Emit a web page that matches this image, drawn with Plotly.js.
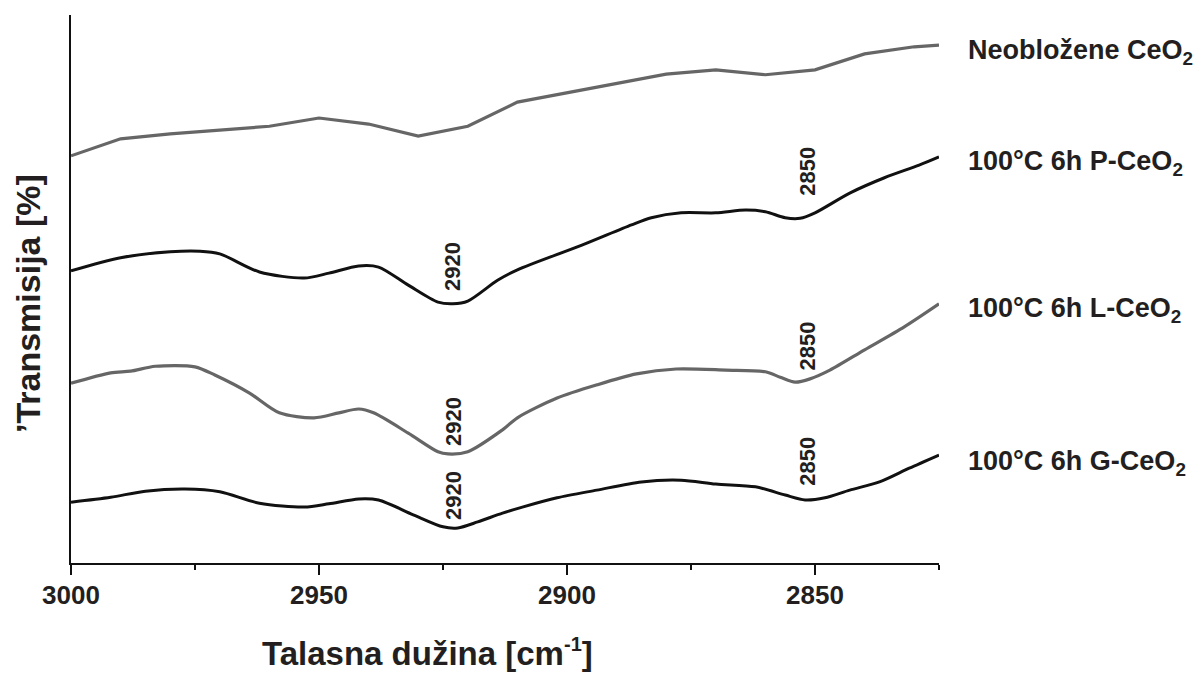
<!DOCTYPE html>
<html>
<head>
<meta charset="utf-8">
<script src="https://cdn.plot.ly/plotly-3.0.1.min.js"></script>
<style>
  html, body { margin: 0; padding: 0; background: #ffffff; }
  #chart { width: 1201px; height: 673px; }
</style>
</head>
<body>
<div id="chart"></div>
<script>
// FTIR spectra, C-H stretching region (wavenumber in cm-1, transmission in arbitrary offset units)

// Uncoated CeO2
const wnUncoated = [3000, 2990, 2980, 2970, 2960, 2950, 2940, 2930, 2920, 2910, 2900, 2890, 2880, 2870, 2860, 2850, 2840, 2830, 2825];
const tUncoated  = [74.3, 77.4, 78.3, 79.0, 79.7, 81.2, 80.1, 77.9, 79.7, 84.1, 85.8, 87.4, 89.2, 90.0, 89.1, 90.0, 92.9, 94.2, 94.5];

// 100°C 6h P-CeO2
const wnP = [3000, 2990, 2980, 2974, 2970, 2962, 2953, 2948, 2942, 2938, 2932, 2926, 2923, 2920, 2914, 2910, 2897, 2887, 2883, 2877, 2870, 2864, 2860, 2856, 2853, 2850, 2843, 2836, 2829, 2825];
const tP  = [53.3, 55.7, 56.8, 56.9, 56.4, 53.1, 52.0, 52.9, 54.2, 54.0, 50.7, 47.6, 47.3, 47.8, 51.6, 53.5, 58.0, 61.7, 63.0, 63.9, 63.9, 64.4, 64.1, 63.0, 62.9, 63.9, 67.5, 70.3, 72.6, 74.1];

// 100°C 6h L-CeO2
const wnL = [3000, 2992, 2988, 2983, 2975, 2971, 2964, 2958, 2951, 2946, 2942, 2939, 2932, 2926, 2924, 2920, 2913, 2910, 2902, 2894, 2886, 2878, 2868, 2860, 2857, 2854, 2851, 2847, 2840, 2832, 2825];
const tL  = [32.8, 34.7, 35.0, 35.9, 35.8, 34.3, 31.0, 27.4, 26.5, 27.4, 28.1, 27.4, 23.7, 20.3, 19.9, 20.3, 24.3, 26.5, 30.1, 32.5, 34.5, 35.4, 35.2, 34.9, 33.9, 33.0, 33.6, 35.2, 38.9, 43.1, 47.3];

// 100°C 6h G-CeO2
const wnG = [3000, 2992, 2985, 2977, 2970, 2962, 2953, 2948, 2942, 2938, 2931, 2925, 2922, 2918, 2913, 2909, 2902, 2894, 2885, 2877, 2870, 2862, 2856, 2852, 2848, 2843, 2837, 2831, 2825];
const tG  = [11.1, 12.0, 13.1, 13.5, 13.0, 10.9, 10.2, 10.8, 11.7, 11.5, 8.8, 6.6, 6.4, 7.5, 9.1, 10.2, 11.9, 13.3, 14.8, 15.1, 14.4, 13.9, 12.4, 11.5, 11.9, 13.3, 14.8, 17.3, 19.7];

// Series names shown at the right end of each curve, with their label heights
const seriesNames = ['Neobložene CeO<sub>2</sub>', '100°C 6h P-CeO<sub>2</sub>', '100°C 6h L-CeO<sub>2</sub>', '100°C 6h G-CeO<sub>2</sub>'];
const nameHeights = [93.2, 73.0, 46.2, 18.2];

// Band markers (wavenumber text, position)
const bandTexts = ['2920', '2920', '2920', '2850', '2850', '2850'];
const bandX     = [2923, 2923, 2923, 2851.5, 2851.5, 2851.5];
const bandY     = [54.2, 25.9, 12.4, 71.5, 39.6, 18.6];

// Axis ticks
const xTicks = [3000, 2950, 2900, 2850];
const xTickText = ['3000', '2950', '2900', '2850'];

const FONT = 'Liberation Sans, Arial, Helvetica, sans-serif';
const INK = '#231f20';
const GREY = '#666666';
const BLACK = '#111111';

const traces = [
  { x: wnUncoated, y: tUncoated, mode: 'lines', line: { color: GREY, width: 3.2, shape: 'linear' }, name: 'Neobložene CeO2' },
  { x: wnP, y: tP, mode: 'lines', line: { color: BLACK, width: 3, shape: 'spline', smoothing: 0.8 }, name: 'P-CeO2' },
  { x: wnL, y: tL, mode: 'lines', line: { color: GREY, width: 3.2, shape: 'spline', smoothing: 0.8 }, name: 'L-CeO2' },
  // drawn on the label axis so that axis is laid out (same range as x)
  { x: wnG, y: tG, xaxis: 'x2', mode: 'lines', line: { color: BLACK, width: 3, shape: 'spline', smoothing: 0.8 }, name: 'G-CeO2' }
];

const annotations = [];
seriesNames.forEach((s, i) => {
  annotations.push({
    text: s, xref: 'paper', yref: 'y', x: 1.031, y: nameHeights[i],
    xanchor: 'left', yanchor: 'middle', showarrow: false,
    font: { family: FONT, size: 27, color: INK, weight: 'bold' }
  });
});
bandTexts.forEach((t, i) => {
  annotations.push({
    text: t, xref: 'x', yref: 'y', x: bandX[i], y: bandY[i],
    xanchor: 'center', yanchor: 'middle', showarrow: false, textangle: -90,
    font: { family: FONT, size: 22, color: INK, weight: 'bold' }
  });
});
// Axis titles
annotations.push({
  text: 'Talasna dužina [cm<sup><span style="font-size:20px">-1</span></sup>]', xref: 'paper', yref: 'paper', x: 0.411, y: -0.163,
  xanchor: 'center', yanchor: 'middle', showarrow: false,
  font: { family: FONT, size: 33, color: INK, weight: 'bold' }
});
annotations.push({
  text: '’Transmisija [%]', xref: 'paper', yref: 'paper', x: -0.0495, y: 0.4726,
  xanchor: 'center', yanchor: 'middle', showarrow: false, textangle: -90,
  font: { family: FONT, size: 34, color: INK, weight: 'bold' }
});

const layout = {
  width: 1201, height: 673,
  margin: { l: 71, r: 262, t: 15, b: 110, pad: 0 },
  paper_bgcolor: '#ffffff', plot_bgcolor: '#ffffff',
  showlegend: false,
  font: { family: FONT, color: INK },
  // tick marks
  xaxis: {
    range: [3000, 2825],
    tickmode: 'array', tickvals: xTicks,
    ticks: 'outside', ticklen: 10, tickwidth: 2, tickcolor: BLACK,
    minor: { tickmode: 'linear', tick0: 2825, dtick: 25, ticks: 'outside', ticklen: 5, tickwidth: 2, tickcolor: BLACK, showgrid: false },
    showticklabels: false,
    showline: true, linecolor: BLACK, linewidth: 2,
    showgrid: false, zeroline: false
  },
  // tick labels
  xaxis2: {
    overlaying: 'x', matches: 'x', anchor: 'y', side: 'bottom',
    range: [3000, 2825],
    tickmode: 'array', tickvals: xTicks, ticktext: xTickText,
    ticks: '', showline: false, showgrid: false, zeroline: false,
    ticklabelstandoff: 14,
    tickfont: { family: FONT, size: 26, color: INK, weight: 'bold' }
  },
  yaxis: {
    range: [0, 100],
    showticklabels: false, ticks: '',
    showline: true, linecolor: BLACK, linewidth: 2,
    showgrid: false, zeroline: false
  },
  annotations: annotations
};

Plotly.newPlot('chart', traces, layout, { displayModeBar: false, staticPlot: true });
</script>
</body>
</html>
